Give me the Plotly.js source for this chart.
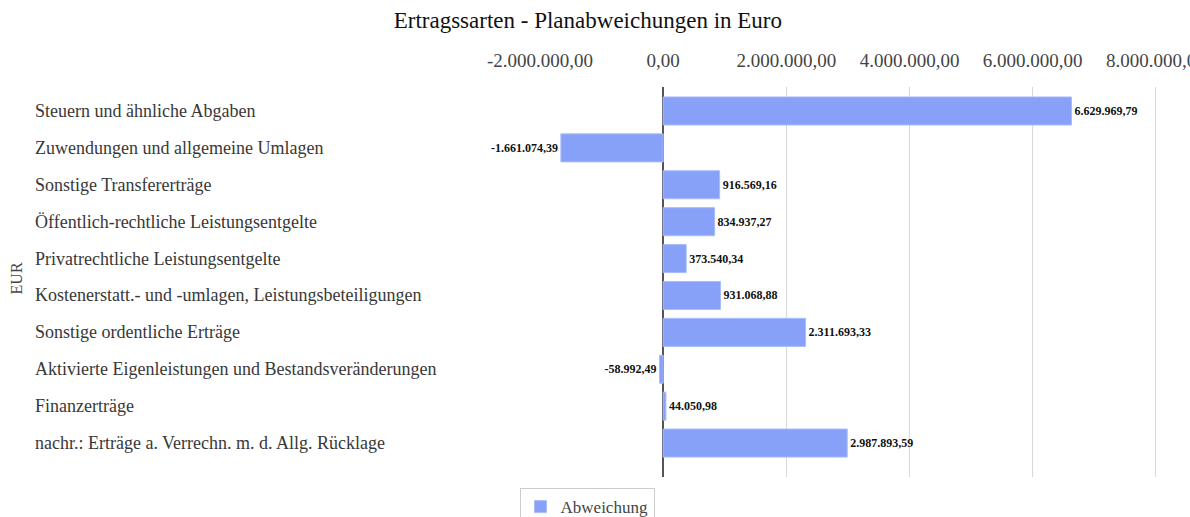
<!DOCTYPE html>
<html>
<head>
<meta charset="utf-8">
<script src="https://cdn.plot.ly/plotly-3.0.1.min.js"></script>
<style>html,body{margin:0;padding:0;background:#fff;}#chart{width:1190px;height:517px;}</style>
</head>
<body>
<div id="chart"></div>
<script>
const categories = [
  "Steuern und ähnliche Abgaben",
  "Zuwendungen und allgemeine Umlagen",
  "Sonstige Transfererträge",
  "Öffentlich-rechtliche Leistungsentgelte",
  "Privatrechtliche Leistungsentgelte",
  "Kostenerstatt.- und -umlagen, Leistungsbeteiligungen",
  "Sonstige ordentliche Erträge",
  "Aktivierte Eigenleistungen und Bestandsveränderungen",
  "Finanzerträge",
  "nachr.: Erträge a. Verrechn. m. d. Allg. Rücklage"
];
const abweichung = [6629969.79, -1661074.39, 916569.16, 834937.27, 373540.34, 931068.88, 2311693.33, -58992.49, 44050.98, 2987893.59];
const tickValues = [-2000000, 0, 2000000, 4000000, 6000000, 8000000];
const tickLabels = ["-2.000.000,00", "0,00", "2.000.000,00", "4.000.000,00", "6.000.000,00", "8.000.000,00"];
const seriesName = "Abweichung";
const chartTitle = "Ertragssarten - Planabweichungen in Euro";
const yTitle = "EUR";

const serif = "'Liberation Serif', 'Times New Roman', serif";

const trace = {
  type: "bar",
  orientation: "h",
  name: seriesName,
  x: abweichung,
  y: categories,
  marker: {color: "#88a1f8", line: {color: "#aabcfa", width: 1}},
  texttemplate: "%{x:,.2f}",
  textposition: "outside",
  constraintext: "none",
  cliponaxis: false,
  textfont: {family: serif, size: 12, color: "#111", weight: "bold"},
  hoverinfo: "x+y"
};

const annotations = categories.map(c => ({
  text: c, xref: "paper", yref: "y", x: -0.8195, y: c,
  xanchor: "left", yanchor: "middle", showarrow: false,
  font: {family: serif, size: 18, color: "#383838"}
}));
annotations.push({
  text: yTitle, xref: "paper", yref: "paper", x: -0.846, y: 0.51,
  xanchor: "center", yanchor: "middle", textangle: -90, showarrow: false,
  font: {family: serif, size: 16, color: "#444"}
});

const layout = {
  width: 1190, height: 517,
  margin: {l: 540, r: 31, t: 87, b: 40},
  separators: ",.",
  paper_bgcolor: "#fff", plot_bgcolor: "#fff",
  title: {text: chartTitle, x: 0.494, xref: "container", xanchor: "center", y: 0.962, yref: "container", yanchor: "middle",
          font: {family: serif, size: 23, color: "#111"}},
  xaxis: {
    side: "top", range: [-2000000, 8050000], tickvals: tickValues, ticktext: tickLabels,
    showgrid: true, gridcolor: "#d9d9d9", gridwidth: 1,
    zeroline: true, zerolinecolor: "#555", zerolinewidth: 1.5,
    showline: false, ticks: "", ticklabelstandoff: 15, ticklabeloverflow: "allow",
    tickfont: {family: serif, size: 19, color: "#444"},
    fixedrange: true
  },
  yaxis: {
    type: "category", range: [9.92, -0.65], showticklabels: false, showgrid: false,
    zeroline: false, showline: false, ticks: "", fixedrange: true
  },
  bargap: 0.24,
  showlegend: true,
  legend: {orientation: "h", x: 0.4933, xref: "container", xanchor: "center", y: 0.056, yref: "container", yanchor: "top",
           bordercolor: "#ccc", borderwidth: 1, bgcolor: "#fff",
           font: {family: serif, size: 17, color: "#444"}},
  annotations: annotations
};

Plotly.newPlot("chart", [trace], layout, {displayModeBar: false, staticPlot: true});
</script>
</body>
</html>
